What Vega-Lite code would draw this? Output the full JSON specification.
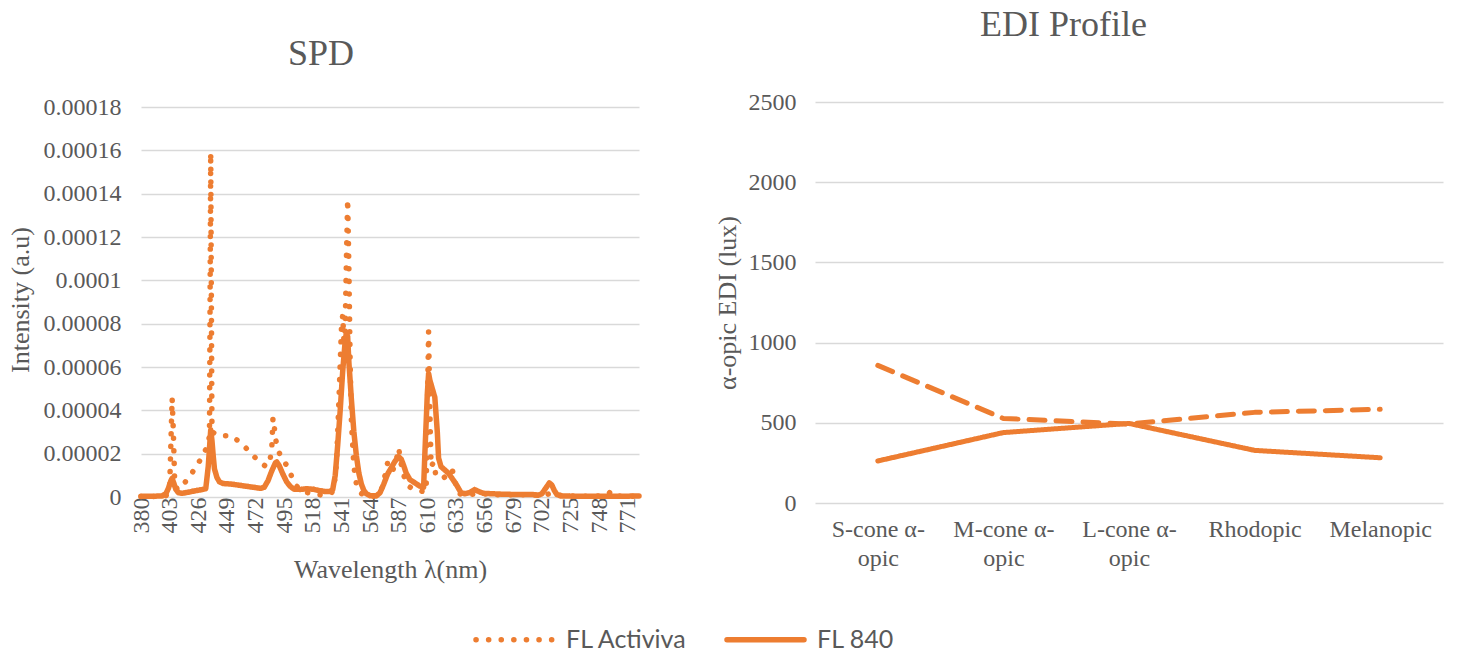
{
  "$schema": "https://vega.github.io/schema/vega-lite/v6.json",
  "background": "white",
  "autosize": {"type": "pad"},
  "padding": {"left": 7, "top": 7, "right": 5, "bottom": 5},
  "bounds": "flush",
  "spacing": 176,
  "config": {
    "view": {"stroke": null},
    "font": "Liberation Serif",
    "axis": {
      "labelFont": "Liberation Serif",
      "titleFont": "Liberation Serif",
      "labelColor": "#595959",
      "titleColor": "#595959",
      "labelFontSize": 24,
      "titleFontSize": 26,
      "titleFontWeight": "normal",
      "domain": false,
      "ticks": false,
      "tickSize": 0,
      "gridColor": "#D9D9D9",
      "gridWidth": 1.5
    },
    "title": {
      "font": "Liberation Serif",
      "fontSize": 36,
      "fontWeight": "normal",
      "color": "#595959",
      "anchor": "middle"
    }
  },
  "datasets": {
    "spd": [
      {"wl": 380, "s": "FL Activiva", "v": 0.2e-6},
      {"wl": 388, "s": "FL Activiva", "v": 0.2e-6},
      {"wl": 396, "s": "FL Activiva", "v": 0.3e-6},
      {"wl": 400, "s": "FL Activiva", "v": 0.6e-6},
      {"wl": 402, "s": "FL Activiva", "v": 1.5e-6},
      {"wl": 403, "s": "FL Activiva", "v": 4e-6},
      {"wl": 405, "s": "FL Activiva", "v": 45.6e-6},
      {"wl": 406, "s": "FL Activiva", "v": 30e-6},
      {"wl": 407, "s": "FL Activiva", "v": 8e-6},
      {"wl": 409, "s": "FL Activiva", "v": 3.5e-6},
      {"wl": 413, "s": "FL Activiva", "v": 4.8e-6},
      {"wl": 418, "s": "FL Activiva", "v": 8.9e-6},
      {"wl": 424, "s": "FL Activiva", "v": 13.5e-6},
      {"wl": 429, "s": "FL Activiva", "v": 18.6e-6},
      {"wl": 433, "s": "FL Activiva", "v": 23e-6},
      {"wl": 435, "s": "FL Activiva", "v": 28e-6},
      {"wl": 436, "s": "FL Activiva", "v": 159e-6},
      {"wl": 437, "s": "FL Activiva", "v": 30e-6},
      {"wl": 443, "s": "FL Activiva", "v": 28.3e-6},
      {"wl": 452, "s": "FL Activiva", "v": 28.3e-6},
      {"wl": 460, "s": "FL Activiva", "v": 25.2e-6},
      {"wl": 467, "s": "FL Activiva", "v": 21e-6},
      {"wl": 474, "s": "FL Activiva", "v": 16.8e-6},
      {"wl": 480, "s": "FL Activiva", "v": 14.2e-6},
      {"wl": 483, "s": "FL Activiva", "v": 15e-6},
      {"wl": 485, "s": "FL Activiva", "v": 22e-6},
      {"wl": 486, "s": "FL Activiva", "v": 36.5e-6},
      {"wl": 487, "s": "FL Activiva", "v": 33e-6},
      {"wl": 488, "s": "FL Activiva", "v": 27e-6},
      {"wl": 490, "s": "FL Activiva", "v": 22e-6},
      {"wl": 492, "s": "FL Activiva", "v": 19e-6},
      {"wl": 495, "s": "FL Activiva", "v": 16.3e-6},
      {"wl": 498, "s": "FL Activiva", "v": 13.8e-6},
      {"wl": 501, "s": "FL Activiva", "v": 9.5e-6},
      {"wl": 505, "s": "FL Activiva", "v": 5e-6},
      {"wl": 510, "s": "FL Activiva", "v": 2.5e-6},
      {"wl": 516, "s": "FL Activiva", "v": 1.7e-6},
      {"wl": 521, "s": "FL Activiva", "v": 1.2e-6},
      {"wl": 525, "s": "FL Activiva", "v": 0.9e-6},
      {"wl": 530, "s": "FL Activiva", "v": 1.2e-6},
      {"wl": 533, "s": "FL Activiva", "v": 1.8e-6},
      {"wl": 535, "s": "FL Activiva", "v": 4e-6},
      {"wl": 537, "s": "FL Activiva", "v": 15e-6},
      {"wl": 539, "s": "FL Activiva", "v": 45e-6},
      {"wl": 541, "s": "FL Activiva", "v": 78e-6},
      {"wl": 542, "s": "FL Activiva", "v": 84e-6},
      {"wl": 543, "s": "FL Activiva", "v": 72e-6},
      {"wl": 544, "s": "FL Activiva", "v": 78e-6},
      {"wl": 545, "s": "FL Activiva", "v": 110e-6},
      {"wl": 546, "s": "FL Activiva", "v": 137.5e-6},
      {"wl": 547, "s": "FL Activiva", "v": 105e-6},
      {"wl": 548, "s": "FL Activiva", "v": 62e-6},
      {"wl": 549, "s": "FL Activiva", "v": 35e-6},
      {"wl": 551, "s": "FL Activiva", "v": 14e-6},
      {"wl": 553, "s": "FL Activiva", "v": 6e-6},
      {"wl": 556, "s": "FL Activiva", "v": 2e-6},
      {"wl": 560, "s": "FL Activiva", "v": 0.5e-6},
      {"wl": 566, "s": "FL Activiva", "v": 0.3e-6},
      {"wl": 570, "s": "FL Activiva", "v": 0.8e-6},
      {"wl": 573, "s": "FL Activiva", "v": 3e-6},
      {"wl": 576, "s": "FL Activiva", "v": 10e-6},
      {"wl": 578, "s": "FL Activiva", "v": 15.6e-6},
      {"wl": 580, "s": "FL Activiva", "v": 13e-6},
      {"wl": 582, "s": "FL Activiva", "v": 11.8e-6},
      {"wl": 585, "s": "FL Activiva", "v": 17e-6},
      {"wl": 587, "s": "FL Activiva", "v": 22.5e-6},
      {"wl": 589, "s": "FL Activiva", "v": 15e-6},
      {"wl": 592, "s": "FL Activiva", "v": 8e-6},
      {"wl": 595, "s": "FL Activiva", "v": 5e-6},
      {"wl": 599, "s": "FL Activiva", "v": 3.4e-6},
      {"wl": 603, "s": "FL Activiva", "v": 3e-6},
      {"wl": 606, "s": "FL Activiva", "v": 2.6e-6},
      {"wl": 609, "s": "FL Activiva", "v": 2.5e-6},
      {"wl": 611, "s": "FL Activiva", "v": 76.4e-6},
      {"wl": 612, "s": "FL Activiva", "v": 40e-6},
      {"wl": 613, "s": "FL Activiva", "v": 14e-6},
      {"wl": 615, "s": "FL Activiva", "v": 16e-6},
      {"wl": 617, "s": "FL Activiva", "v": 9.5e-6},
      {"wl": 620, "s": "FL Activiva", "v": 9e-6},
      {"wl": 623, "s": "FL Activiva", "v": 8.8e-6},
      {"wl": 627, "s": "FL Activiva", "v": 10.5e-6},
      {"wl": 630, "s": "FL Activiva", "v": 12.6e-6},
      {"wl": 632, "s": "FL Activiva", "v": 8e-6},
      {"wl": 634, "s": "FL Activiva", "v": 2e-6},
      {"wl": 638, "s": "FL Activiva", "v": 1e-6},
      {"wl": 645, "s": "FL Activiva", "v": 1.2e-6},
      {"wl": 652, "s": "FL Activiva", "v": 1.5e-6},
      {"wl": 660, "s": "FL Activiva", "v": 1.2e-6},
      {"wl": 670, "s": "FL Activiva", "v": 1e-6},
      {"wl": 680, "s": "FL Activiva", "v": 1e-6},
      {"wl": 690, "s": "FL Activiva", "v": 1.1e-6},
      {"wl": 700, "s": "FL Activiva", "v": 0.8e-6},
      {"wl": 706, "s": "FL Activiva", "v": 1.2e-6},
      {"wl": 710, "s": "FL Activiva", "v": 1.8e-6},
      {"wl": 714, "s": "FL Activiva", "v": 1e-6},
      {"wl": 720, "s": "FL Activiva", "v": 0.5e-6},
      {"wl": 730, "s": "FL Activiva", "v": 0.4e-6},
      {"wl": 740, "s": "FL Activiva", "v": 0.4e-6},
      {"wl": 750, "s": "FL Activiva", "v": 0.5e-6},
      {"wl": 755, "s": "FL Activiva", "v": 1e-6},
      {"wl": 757, "s": "FL Activiva", "v": 2.4e-6},
      {"wl": 759, "s": "FL Activiva", "v": 1e-6},
      {"wl": 765, "s": "FL Activiva", "v": 0.4e-6},
      {"wl": 772, "s": "FL Activiva", "v": 0.3e-6},
      {"wl": 780, "s": "FL Activiva", "v": 0.4e-6},

      {"wl": 380, "s": "FL 840", "v": 0.3e-6},
      {"wl": 386, "s": "FL 840", "v": 0.3e-6},
      {"wl": 392, "s": "FL 840", "v": 0.4e-6},
      {"wl": 397, "s": "FL 840", "v": 0.5e-6},
      {"wl": 400, "s": "FL 840", "v": 1.5e-6},
      {"wl": 402, "s": "FL 840", "v": 4e-6},
      {"wl": 404, "s": "FL 840", "v": 7.5e-6},
      {"wl": 405, "s": "FL 840", "v": 8.6e-6},
      {"wl": 406, "s": "FL 840", "v": 7e-6},
      {"wl": 408, "s": "FL 840", "v": 3.5e-6},
      {"wl": 410, "s": "FL 840", "v": 2e-6},
      {"wl": 413, "s": "FL 840", "v": 1.7e-6},
      {"wl": 418, "s": "FL 840", "v": 2.2e-6},
      {"wl": 423, "s": "FL 840", "v": 2.8e-6},
      {"wl": 428, "s": "FL 840", "v": 3.3e-6},
      {"wl": 432, "s": "FL 840", "v": 3.8e-6},
      {"wl": 434, "s": "FL 840", "v": 14e-6},
      {"wl": 436, "s": "FL 840", "v": 31e-6},
      {"wl": 437, "s": "FL 840", "v": 26e-6},
      {"wl": 438, "s": "FL 840", "v": 19e-6},
      {"wl": 439, "s": "FL 840", "v": 13e-6},
      {"wl": 441, "s": "FL 840", "v": 9e-6},
      {"wl": 443, "s": "FL 840", "v": 7e-6},
      {"wl": 446, "s": "FL 840", "v": 6.2e-6},
      {"wl": 452, "s": "FL 840", "v": 6e-6},
      {"wl": 458, "s": "FL 840", "v": 5.5e-6},
      {"wl": 464, "s": "FL 840", "v": 5e-6},
      {"wl": 470, "s": "FL 840", "v": 4.5e-6},
      {"wl": 476, "s": "FL 840", "v": 4e-6},
      {"wl": 479, "s": "FL 840", "v": 4.5e-6},
      {"wl": 482, "s": "FL 840", "v": 7.5e-6},
      {"wl": 485, "s": "FL 840", "v": 12e-6},
      {"wl": 488, "s": "FL 840", "v": 15.8e-6},
      {"wl": 489, "s": "FL 840", "v": 16.2e-6},
      {"wl": 491, "s": "FL 840", "v": 14.5e-6},
      {"wl": 494, "s": "FL 840", "v": 10.5e-6},
      {"wl": 497, "s": "FL 840", "v": 7e-6},
      {"wl": 500, "s": "FL 840", "v": 4.8e-6},
      {"wl": 503, "s": "FL 840", "v": 3.6e-6},
      {"wl": 508, "s": "FL 840", "v": 3.5e-6},
      {"wl": 513, "s": "FL 840", "v": 3.8e-6},
      {"wl": 518, "s": "FL 840", "v": 3.6e-6},
      {"wl": 523, "s": "FL 840", "v": 3e-6},
      {"wl": 528, "s": "FL 840", "v": 2.5e-6},
      {"wl": 532, "s": "FL 840", "v": 2.6e-6},
      {"wl": 534, "s": "FL 840", "v": 3.5e-6},
      {"wl": 536, "s": "FL 840", "v": 10e-6},
      {"wl": 538, "s": "FL 840", "v": 24e-6},
      {"wl": 540, "s": "FL 840", "v": 40e-6},
      {"wl": 542, "s": "FL 840", "v": 58e-6},
      {"wl": 544, "s": "FL 840", "v": 72e-6},
      {"wl": 545, "s": "FL 840", "v": 76e-6},
      {"wl": 546, "s": "FL 840", "v": 74e-6},
      {"wl": 547, "s": "FL 840", "v": 62e-6},
      {"wl": 549, "s": "FL 840", "v": 45e-6},
      {"wl": 551, "s": "FL 840", "v": 30e-6},
      {"wl": 553, "s": "FL 840", "v": 19e-6},
      {"wl": 555, "s": "FL 840", "v": 11e-6},
      {"wl": 557, "s": "FL 840", "v": 6e-6},
      {"wl": 559, "s": "FL 840", "v": 3e-6},
      {"wl": 561, "s": "FL 840", "v": 1.5e-6},
      {"wl": 564, "s": "FL 840", "v": 0.6e-6},
      {"wl": 569, "s": "FL 840", "v": 0.5e-6},
      {"wl": 572, "s": "FL 840", "v": 2e-6},
      {"wl": 575, "s": "FL 840", "v": 6e-6},
      {"wl": 578, "s": "FL 840", "v": 10.5e-6},
      {"wl": 581, "s": "FL 840", "v": 13.5e-6},
      {"wl": 584, "s": "FL 840", "v": 16.5e-6},
      {"wl": 587, "s": "FL 840", "v": 18.5e-6},
      {"wl": 589, "s": "FL 840", "v": 17.5e-6},
      {"wl": 591, "s": "FL 840", "v": 14.5e-6},
      {"wl": 593, "s": "FL 840", "v": 11e-6},
      {"wl": 596, "s": "FL 840", "v": 8e-6},
      {"wl": 600, "s": "FL 840", "v": 6.5e-6},
      {"wl": 604, "s": "FL 840", "v": 5e-6},
      {"wl": 607, "s": "FL 840", "v": 4.5e-6},
      {"wl": 608, "s": "FL 840", "v": 20e-6},
      {"wl": 610, "s": "FL 840", "v": 48e-6},
      {"wl": 611, "s": "FL 840", "v": 57e-6},
      {"wl": 612, "s": "FL 840", "v": 54e-6},
      {"wl": 614, "s": "FL 840", "v": 50e-6},
      {"wl": 616, "s": "FL 840", "v": 46e-6},
      {"wl": 618, "s": "FL 840", "v": 30e-6},
      {"wl": 619, "s": "FL 840", "v": 18e-6},
      {"wl": 621, "s": "FL 840", "v": 14e-6},
      {"wl": 624, "s": "FL 840", "v": 12.5e-6},
      {"wl": 627, "s": "FL 840", "v": 11e-6},
      {"wl": 630, "s": "FL 840", "v": 8.5e-6},
      {"wl": 633, "s": "FL 840", "v": 6e-6},
      {"wl": 635, "s": "FL 840", "v": 4e-6},
      {"wl": 637, "s": "FL 840", "v": 2e-6},
      {"wl": 640, "s": "FL 840", "v": 1.5e-6},
      {"wl": 644, "s": "FL 840", "v": 2e-6},
      {"wl": 648, "s": "FL 840", "v": 3.4e-6},
      {"wl": 651, "s": "FL 840", "v": 2.6e-6},
      {"wl": 655, "s": "FL 840", "v": 1.7e-6},
      {"wl": 662, "s": "FL 840", "v": 1.5e-6},
      {"wl": 670, "s": "FL 840", "v": 1.3e-6},
      {"wl": 678, "s": "FL 840", "v": 1.2e-6},
      {"wl": 686, "s": "FL 840", "v": 1.2e-6},
      {"wl": 694, "s": "FL 840", "v": 1.2e-6},
      {"wl": 699, "s": "FL 840", "v": 0.8e-6},
      {"wl": 702, "s": "FL 840", "v": 1.5e-6},
      {"wl": 705, "s": "FL 840", "v": 4e-6},
      {"wl": 708, "s": "FL 840", "v": 6.5e-6},
      {"wl": 710, "s": "FL 840", "v": 5.5e-6},
      {"wl": 712, "s": "FL 840", "v": 3e-6},
      {"wl": 714, "s": "FL 840", "v": 1.2e-6},
      {"wl": 717, "s": "FL 840", "v": 0.5e-6},
      {"wl": 725, "s": "FL 840", "v": 0.4e-6},
      {"wl": 735, "s": "FL 840", "v": 0.4e-6},
      {"wl": 745, "s": "FL 840", "v": 0.4e-6},
      {"wl": 755, "s": "FL 840", "v": 0.4e-6},
      {"wl": 765, "s": "FL 840", "v": 0.4e-6},
      {"wl": 772, "s": "FL 840", "v": 0.4e-6},
      {"wl": 780, "s": "FL 840", "v": 0.5e-6}
    ],
    "edi": [
      {"k": "S-cone α-opic", "s": "FL Activiva", "v": 858},
      {"k": "M-cone α-opic", "s": "FL Activiva", "v": 527},
      {"k": "L-cone α-opic", "s": "FL Activiva", "v": 492},
      {"k": "Rhodopic", "s": "FL Activiva", "v": 565},
      {"k": "Melanopic", "s": "FL Activiva", "v": 584},
      {"k": "S-cone α-opic", "s": "FL 840", "v": 262},
      {"k": "M-cone α-opic", "s": "FL 840", "v": 439},
      {"k": "L-cone α-opic", "s": "FL 840", "v": 496},
      {"k": "Rhodopic", "s": "FL 840", "v": 328},
      {"k": "Melanopic", "s": "FL 840", "v": 282}
    ]
  },
  "hconcat": [
    {
      "width": 498,
      "height": 395,
      "title": {"text": "SPD", "offset": 22, "frame": "group", "dx": -69},
      "data": {"name": "spd"},
      "encoding": {
        "x": {
          "field": "wl",
          "type": "quantitative",
          "scale": {"domain": [380, 780], "nice": false, "zero": false},
          "axis": {
            "title": "Wavelength λ(nm)",
            "values": [380, 403, 426, 449, 472, 495, 518, 541, 564, 587, 610, 633, 656, 679, 702, 725, 748, 771],
            "format": "d",
            "labelAngle": -90,
            "grid": false,
            "labelPadding": 0,
            "minExtent": 50,
            "maxExtent": 50,
            "titlePadding": 9
          }
        },
        "y": {
          "field": "v",
          "type": "quantitative",
          "scale": {"domain": [0, 0.00018231], "nice": false},
          "axis": {
            "title": "Intensity (a.u)",
            "values": [0, 0.00002, 0.00004, 0.00006, 0.00008, 0.0001, 0.00012, 0.00014, 0.00016, 0.00018],
            "format": "~g",
            "labelPadding": 20,
            "minExtent": 100,
            "maxExtent": 100,
            "titlePadding": 8
          }
        },
        "strokeDash": {
          "field": "s",
          "type": "nominal",
          "scale": {"domain": ["FL Activiva", "FL 840"], "range": [[0.1, 12.5], [1, 0]]},
          "legend": {
            "title": null,
            "orient": "none",
            "legendX": 332,
            "legendY": 496,
            "direction": "horizontal",
            "padding": 0,
            "symbolType": "stroke",
            "symbolSize": 5929,
            "symbolStrokeWidth": 5.5,
            "symbolStrokeColor": "#ED7D31",
            "labelFont": "Lato",
            "labelFontSize": 25,
            "labelColor": "#595959",
            "labelOffset": 10,
            "columnPadding": 28,
            "encode": {"symbols": {"update": {"strokeCap": {"value": "round"}}}}
          }
        }
      },
      "layer": [
        {
          "transform": [{"filter": "datum.s === 'FL Activiva'"}],
          "mark": {"type": "line", "color": "#ED7D31", "strokeWidth": 5.5, "strokeCap": "round", "strokeJoin": "round"}
        },
        {
          "transform": [{"filter": "datum.s === 'FL 840'"}],
          "mark": {"type": "line", "color": "#ED7D31", "strokeWidth": 5.5, "strokeCap": "round", "strokeJoin": "round"}
        }
      ]
    },
    {
      "width": 628,
      "height": 401,
      "title": {"text": "EDI Profile", "offset": 46, "frame": "bounds", "dx": -15},
      "data": {"name": "edi"},
      "mark": {"type": "line", "color": "#ED7D31", "strokeWidth": 5, "strokeCap": "round", "strokeJoin": "round"},
      "encoding": {
        "x": {
          "field": "k",
          "type": "nominal",
          "sort": null,
          "scale": {"type": "point", "padding": 0.5},
          "axis": {
            "title": null,
            "labelAngle": 0,
            "labelPadding": 14,
            "labelLineHeight": 29,
            "labelExpr": "indexof(datum.label, 'α-opic') > 0 ? [replace(datum.label, 'opic', ''), 'opic'] : datum.label"
          }
        },
        "y": {
          "field": "v",
          "type": "quantitative",
          "scale": {"domain": [0, 2500], "nice": false},
          "axis": {
            "title": "α-opic EDI (lux)",
            "values": [0, 500, 1000, 1500, 2000, 2500],
            "format": "d",
            "labelPadding": 19,
            "minExtent": 68,
            "maxExtent": 68,
            "titlePadding": 7
          }
        },
        "strokeDash": {
          "field": "s",
          "type": "nominal",
          "scale": {"domain": ["FL Activiva", "FL 840"], "range": [[16, 11], [1, 0]]},
          "legend": null
        }
      }
    }
  ],
  "resolve": {
    "scale": {"strokeDash": "independent"},
    "legend": {"strokeDash": "independent"}
  }
}
